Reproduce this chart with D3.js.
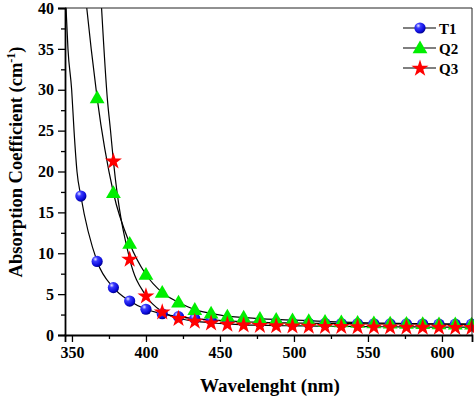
<!DOCTYPE html>
<html>
<head>
<meta charset="utf-8">
<script src="https://cdn.jsdelivr.net/npm/d3@7"></script>
<style>
  body { margin: 0; background: #fff; }
</style>
</head>
<body>
<svg width="474" height="396"></svg>
<script>
// measured wavelengths (nm), shared by all samples
const wavelengths = [356, 367, 378, 389, 400, 411, 422, 433, 444, 455, 466, 477, 488,
                     499, 510, 521, 532, 543, 554, 565, 576, 587, 598, 609, 620];

// absorption coefficient (cm-1); Q2 starts at 367 nm, Q3 at 378 nm
const t1Values = [17.0, 9.0, 5.8, 4.15, 3.15, 2.6, 2.25, 2.0, 1.85, 1.72, 1.62, 1.56, 1.5,
                  1.47, 1.44, 1.42, 1.4, 1.38, 1.37, 1.36, 1.35, 1.34, 1.33, 1.32, 1.32];
const q2Values = [29.0, 17.4, 11.2, 7.4, 5.2, 4.0, 3.1, 2.65, 2.3, 2.15, 2.0, 1.9,
                  1.83, 1.75, 1.66, 1.58, 1.52, 1.47, 1.43, 1.4, 1.37, 1.35, 1.33, 1.31];
const q3Values = [21.3, 9.3, 4.8, 2.85, 2.05, 1.7, 1.5, 1.35, 1.25, 1.2, 1.15, 1.12,
                  1.1, 1.08, 1.06, 1.04, 1.02, 1.0, 0.99, 0.98, 0.97, 0.96, 0.95];

// where the fitted curves leave the top of the frame
const t1FitHead = [[346, 40], [347.3, 35], [349.8, 30], [351.4, 25], [353.4, 20]];
const q2FitHead = [[360, 40], [363, 35]];
const q3FitHead = [[370, 40], [374, 28.7], [376, 25.1]];

const seriesNames = ['T1', 'Q2', 'Q3'];
const xTicks = [350, 400, 450, 500, 550, 600];
const yTicks = [0, 5, 10, 15, 20, 25, 30, 35, 40];

const FONT = 'Liberation Serif';

const svg = d3.select('svg'),
      margin = {top: 8, right: 2, bottom: 61, left: 65},
      width = +svg.attr('width') - margin.left - margin.right,
      height = +svg.attr('height') - margin.top - margin.bottom,
      g = svg.append('g').attr('transform', 'translate(' + margin.left + ',' + margin.top + ')');

const x = d3.scaleLinear().domain([345.3, 620.3]).range([0, width]);
const y = d3.scaleLinear().domain([0, 40]).range([height, 0]);

// sphere look for T1 markers
const defs = svg.append('defs');
const grad = defs.append('radialGradient')
    .attr('id', 'sphere').attr('cx', '35%').attr('cy', '30%').attr('r', '70%');
grad.append('stop').attr('offset', '0%').attr('stop-color', '#e8e8ff');
grad.append('stop').attr('offset', '30%').attr('stop-color', '#3a3aff');
grad.append('stop').attr('offset', '80%').attr('stop-color', '#0a0ad8');
grad.append('stop').attr('offset', '100%').attr('stop-color', '#000090');

defs.append('clipPath').attr('id', 'plot')
  .append('rect').attr('width', width).attr('height', height);

const pairs = (vals) => {
  const off = wavelengths.length - vals.length;
  return vals.map((v, i) => [wavelengths[i + off], v]);
};

const series = [
  {name: 'T1', pts: pairs(t1Values), head: t1FitHead},
  {name: 'Q2', pts: pairs(q2Values), head: q2FitHead},
  {name: 'Q3', pts: pairs(q3Values), head: q3FitHead}
];

const line = d3.line()
    .x((d) => x(d[0]))
    .y((d) => y(d[1]))
    .curve(d3.curveMonotoneX);

// fitted curves
g.append('g').attr('clip-path', 'url(#plot)')
  .selectAll('path')
  .data(series)
  .join('path')
    .attr('fill', 'none')
    .attr('stroke', '#000')
    .attr('stroke-width', 1.2)
    .attr('d', (s) => line(s.head.concat(s.pts)));

// marker shapes
const triangle = d3.symbol().type(d3.symbolTriangle).size(95);
const star = d3.symbol().type(d3.symbolStar).size(90);

function drawMarker(sel, name) {
  if (name === 'T1') {
    sel.append('circle').attr('r', 5.6).attr('fill', 'url(#sphere)');
  } else if (name === 'Q2') {
    sel.append('path').attr('d', triangle).attr('transform', 'translate(0,1)').attr('fill', '#00ee00');
  } else {
    sel.append('path').attr('d', star).attr('transform', 'translate(0,0.5)').attr('fill', '#ff0000');
  }
}

series.forEach((s) => {
  g.append('g')
    .selectAll('g')
    .data(s.pts)
    .join('g')
      .attr('transform', (d) => 'translate(' + x(d[0]) + ',' + y(d[1]) + ')')
      .each(function() { drawMarker(d3.select(this), s.name); });
});

// frame top/right
g.append('line').attr('x1', 0).attr('x2', width).attr('y1', 0).attr('y2', 0)
  .attr('stroke', '#222').attr('stroke-width', 1);
g.append('line').attr('x1', width).attr('x2', width).attr('y1', 0).attr('y2', height)
  .attr('stroke', '#222').attr('stroke-width', 1);

// minor ticks
const xMinor = d3.range(375, 620, 50);
const yMinor = d3.range(2.5, 40, 5);

g.append('g')
    .attr('transform', 'translate(0,' + height + ')')
    .call(d3.axisBottom(x).tickValues(xTicks).tickSize(7).tickPadding(5));
g.append('g')
    .attr('transform', 'translate(0,' + height + ')')
    .call(d3.axisBottom(x).tickValues(xMinor).tickSize(4).tickFormat(''))
  .select('.domain').remove();

g.append('g')
    .call(d3.axisLeft(y).tickValues(yTicks).tickSize(7).tickPadding(4));
g.append('g')
    .call(d3.axisLeft(y).tickValues(yMinor).tickSize(4).tickFormat(''))
  .select('.domain').remove();

g.selectAll('.domain').attr('stroke-width', 1.8);
g.selectAll('.tick line').attr('stroke-width', 1.3);
g.selectAll('.tick text')
    .attr('font-size', 16)
    .attr('fill', '#000');

// axis titles
svg.append('text')
    .attr('x', 270)
    .attr('y', 392)
    .attr('text-anchor', 'middle')
    .attr('font-size', 19)
    .text('Wavelenght (nm)');

const yTitle = svg.append('text')
    .attr('transform', 'translate(22,162) rotate(-90)')
    .attr('text-anchor', 'middle')
    .attr('font-size', 18.5);
yTitle.append('tspan').text('Absorption Coefficient (cm');
yTitle.append('tspan').attr('font-size', 12).attr('dy', -7).text('-1');
yTitle.append('tspan').attr('dy', 7).text(')');

// legend
const legend = svg.append('g').attr('transform', 'translate(403,28)');
seriesNames.forEach((name, i) => {
  const row = legend.append('g').attr('transform', 'translate(0,' + (i * 20) + ')');
  row.append('line').attr('x1', 0).attr('x2', 33).attr('stroke', '#000').attr('stroke-width', 1.2);
  drawMarker(row.append('g').attr('transform', 'translate(17,0)'), name);
  row.append('text').attr('x', 36).attr('y', 5.5).attr('font-size', 15).text(name);
});

// one serif face for every label
svg.selectAll('text')
    .attr('font-family', FONT)
    .attr('font-weight', 'bold');
</script>
</body>
</html>
